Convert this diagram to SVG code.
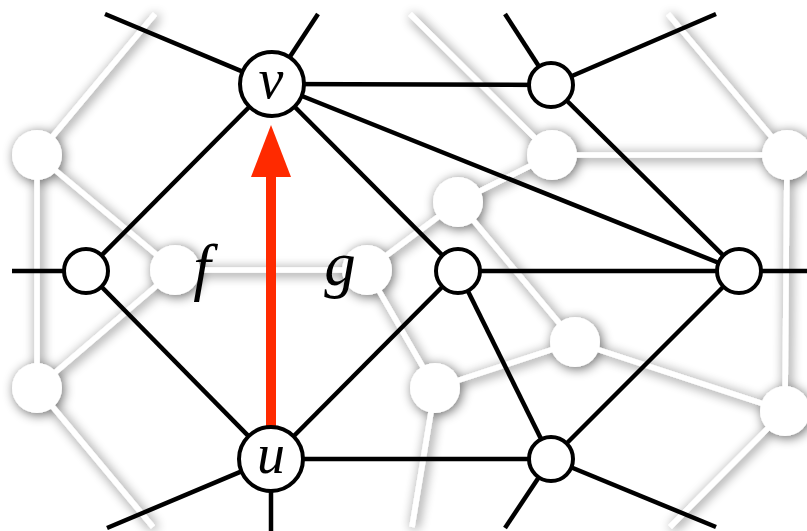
<svg xmlns="http://www.w3.org/2000/svg" width="807" height="531" viewBox="0 0 807 531">
<style>
.bge{stroke:#fff;stroke-width:5.5;fill:none}
.bgn{fill:#fff}
.e{stroke:#000;stroke-width:4.5;fill:none}
.n{fill:#fff;stroke:#000;stroke-width:4}
.lbl{font-family:"Liberation Serif","DejaVu Serif",serif;font-style:italic;font-size:56px;fill:#000;text-anchor:middle}
.face{font-size:63px}
</style>
<defs>
<filter id="sh" filterUnits="userSpaceOnUse" x="-30" y="-30" width="870" height="590">
<feGaussianBlur in="SourceAlpha" stdDeviation="6"/>
<feOffset dx="2" dy="2" result="b"/>
<feComponentTransfer in="b" result="s"><feFuncA type="linear" slope="0.6"/></feComponentTransfer>
<feMerge><feMergeNode in="s"/><feMergeNode in="SourceGraphic"/></feMerge>
</filter>
<marker id="ah" markerUnits="userSpaceOnUse" viewBox="0 0 52 40" refX="0" refY="20" markerWidth="52" markerHeight="40" orient="auto">
<path d="M0,0 L52,20 L0,40 Z" fill="#ff2a00"/>
</marker>
</defs>
<rect width="807" height="531" fill="#fff"/>
<g id="dual" filter="url(#sh)">
<g class="bge">
<line x1="37" y1="155" x2="155" y2="14"/>
<line x1="37" y1="155" x2="37" y2="388"/>
<line x1="37" y1="155" x2="175" y2="270"/>
<line x1="175" y1="270" x2="367" y2="270"/>
<line x1="175" y1="270" x2="37" y2="388"/>
<line x1="37" y1="388" x2="153" y2="527"/>
<line x1="367" y1="270" x2="458" y2="202"/>
<line x1="367" y1="270" x2="435" y2="388"/>
<line x1="458" y1="202" x2="552" y2="155"/>
<line x1="458" y1="202" x2="575" y2="342"/>
<line x1="552" y1="155" x2="410" y2="14"/>
<line x1="552" y1="155" x2="787" y2="155"/>
<line x1="787" y1="155" x2="668" y2="14"/>
<line x1="787" y1="155" x2="785" y2="411"/>
<line x1="575" y1="342" x2="435" y2="388"/>
<line x1="575" y1="342" x2="785" y2="411"/>
<line x1="435" y1="388" x2="412" y2="527"/>
<line x1="785" y1="411" x2="670" y2="527"/>
</g>
<g class="bgn">
<circle cx="37" cy="155" r="25"/>
<circle cx="175" cy="270" r="25"/>
<circle cx="37" cy="388" r="25"/>
<circle cx="367" cy="270" r="25"/>
<circle cx="458" cy="202" r="25"/>
<circle cx="552" cy="155" r="25"/>
<circle cx="787" cy="155" r="25"/>
<circle cx="575" cy="342" r="25"/>
<circle cx="435" cy="388" r="25"/>
<circle cx="785" cy="411" r="25"/>
</g>
</g>
<g id="connectors">
<g class="e">
<line x1="272" y1="84" x2="105" y2="14"/>
<line x1="272" y1="84" x2="318" y2="14"/>
<line x1="272" y1="84" x2="551" y2="85"/>
<line x1="272" y1="84" x2="739" y2="271"/>
<line x1="272" y1="84" x2="458" y2="271"/>
<line x1="272" y1="84" x2="86" y2="271"/>
<line x1="551" y1="85" x2="505" y2="14"/>
<line x1="551" y1="85" x2="716" y2="14"/>
<line x1="551" y1="85" x2="739" y2="271"/>
<line x1="86" y1="271" x2="12" y2="271"/>
<line x1="86" y1="271" x2="271" y2="459"/>
<line x1="458" y1="271" x2="739" y2="271"/>
<line x1="458" y1="271" x2="271" y2="459"/>
<line x1="458" y1="271" x2="551" y2="459"/>
<line x1="739" y1="271" x2="551" y2="459"/>
<line x1="739" y1="271" x2="807" y2="271"/>
<line x1="271" y1="459" x2="551" y2="459"/>
<line x1="271" y1="459" x2="107" y2="528"/>
<line x1="271" y1="459" x2="271" y2="531"/>
<line x1="551" y1="459" x2="505" y2="528"/>
<line x1="551" y1="459" x2="716" y2="527"/>
</g>
<line id="arrow" x1="271" y1="426" x2="271" y2="177" stroke="#ff2a00" stroke-width="10" marker-end="url(#ah)"/>
</g>
<g id="node-v"><circle class="n" cx="272" cy="84" r="32"/><text class="lbl" x="271" y="98">v</text></g>
<g id="node-u"><circle class="n" cx="271" cy="459" r="32"/><text class="lbl" x="271" y="473">u</text></g>
<g id="node-l"><circle class="n" cx="86" cy="271" r="22"/></g>
<g id="node-m"><circle class="n" cx="458" cy="271" r="22"/></g>
<g id="node-r"><circle class="n" cx="739" cy="271" r="22"/></g>
<g id="node-t"><circle class="n" cx="551" cy="85" r="22"/></g>
<g id="node-b"><circle class="n" cx="551" cy="459" r="22"/></g>
<g id="face-f"><text class="lbl face" x="202" y="288">f</text></g>
<g id="face-g"><text class="lbl face" x="340" y="285">g</text></g>
</svg>
